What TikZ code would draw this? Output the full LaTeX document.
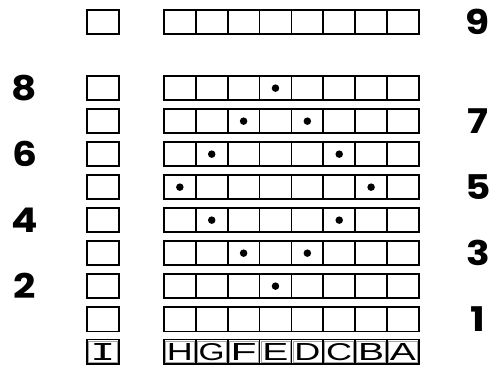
\documentclass[tikz,border=0pt]{standalone}
\usepackage{fontspec}
\setmainfont{Poppins}
\newfontfamily\letterfont{Liberation Sans}
\newfontfamily\monofont{DejaVu Sans Mono}
\usepackage{graphicx}
\begin{document}
\begin{tikzpicture}[x={(1pt,0)},y={(0,-1pt)},
  cell/.style={draw=black,line width=1.8pt,minimum width=31.9pt,minimum height=24.5pt,inner sep=0pt,anchor=north west},
  dot/.style={circle,fill=black,inner sep=0pt,minimum size=7.5pt},
  numlab/.style={font=\fontsize{34}{34}\selectfont\bfseries,inner sep=0pt},
  letter/.style={inner sep=0pt},
  inframe/.style={draw=gray!70,line width=0.6pt}]
\useasboundingbox (0,0) rectangle (493,366);
% rows 1..8
\foreach \r in {1,...,8} {
  \pgfmathsetmacro{\yy}{75+33*(8-\r)}
  \node[cell] (s\r) at (86,\yy) {};
  \foreach \c in {1,...,8} {
    \pgfmathsetmacro{\xx}{163+31.875*(\c-1)}
    \node[cell] (g\r-\c) at (\xx,\yy) {};
  }
}
% row 9
\node[cell] (s9) at (86,9) {};
\foreach \c in {1,...,8} {
  \pgfmathsetmacro{\xx}{163+31.875*(\c-1)}
  \node[cell] (g9-\c) at (\xx,9) {};
}
% letter row
\node[cell] (sI) at (86,338.5) {};
\draw[inframe] ([shift={(2.4pt,-2.4pt)}]sI.north west) rectangle ([shift={(-2.4pt,2.4pt)}]sI.south east);
\node[letter] (tI) at (sI.center) {\resizebox{25pt}{17pt}{\monofont I}};
\foreach \c/\L in {1/H,2/G,3/F,4/E,5/D,6/C,7/B,8/A} {
  \pgfmathsetmacro{\xx}{163+31.875*(\c-1)}
  \node[cell] (l\c) at (\xx,338.5) {};
  \draw[inframe] ([shift={(2.4pt,-2.4pt)}]l\c.north west) rectangle ([shift={(-2.4pt,2.4pt)}]l\c.south east);
  \node[letter] (t\c) at (l\c.center) {\resizebox{26pt}{17pt}{\letterfont\L}};
}
% dots
\foreach \r/\c in {8/4,7/3,7/5,6/2,6/6,5/1,5/7,4/2,4/6,3/3,3/5,2/4} {
  \node[dot] (d\r-\c) at (g\r-\c.center) {};
}
% labels
\foreach \r in {8,6,4,2} {
  \node[numlab] (n\r) at (24.5,{75+33*(8-\r)+13}) {\scalebox{1.15}[1]{\r}};
}
\foreach \r in {7,5,3,1} {
  \node[numlab] (n\r) at (478,{75+33*(8-\r)+13}) {\scalebox{1.15}[1]{\r}};
}
\node[numlab] (n9) at (478,21.5) {\scalebox{1.15}[1]{9}};
\end{tikzpicture}
\end{document}
